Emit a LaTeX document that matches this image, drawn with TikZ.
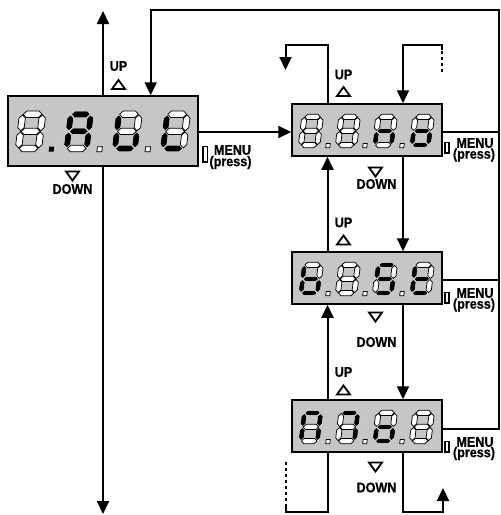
\documentclass[tikz,border=0pt]{standalone}
\usepackage{fontspec}
\setmainfont{Liberation Sans}
\newfontfamily\labfont[FakeStretch=0.9,BoldFeatures={FakeBold=0.6}]{Liberation Sans}
\usetikzlibrary{arrows.meta,calc}
\definecolor{dispgray}{RGB}{198,198,198}
\def\sg{0.6}\def\sh{3.2}\def\dscale{1}
\newcommand\segput[2]{\ifnum#1=1 \filldraw[seglit] #2;\else\filldraw[segoff] #2;\fi}
\newcommand\segH[4]{\segput{#1}{(#2+\sg,#4) -- (#2+\sg+\sh,#4+\sh) -- (#3-\sg-\sh,#4+\sh) -- (#3-\sg,#4) -- (#3-\sg-\sh,#4-\sh) -- (#2+\sg+\sh,#4-\sh) -- cycle}}
\newcommand\segV[4]{\segput{#1}{(#2,#3+\sg) -- (#2+\sh,#3+\sg+\sh) -- (#2+\sh,#4-\sg-\sh) -- (#2,#4-\sg) -- (#2-\sh,#4-\sg-\sh) -- (#2-\sh,#3+\sg+\sh) -- cycle}}
\newcommand\sdig[9]{%
 \begin{scope}[shift={#1},x=1pt,y=1pt,xslant=0.12,scale=\dscale]
 \segH{#2}{0}{20}{34.2}
 \segV{#3}{20}{17.1}{34.2}
 \segV{#4}{20}{0}{17.1}
 \segH{#5}{0}{20}{0}
 \segV{#6}{0}{0}{17.1}
 \segV{#7}{0}{17.1}{34.2}
 \segH{#8}{0}{20}{17.1}
 \ifnum#9=1 \fill[black] (30.5,-3.2) rectangle (35.5,1.8);\fi
 \ifnum#9=0 \filldraw[segoff] (30.5,-3.2) rectangle (35.5,1.8);\fi
 \end{scope}}
\begin{document}
\begin{tikzpicture}[x=1pt,y=-1pt,
  seglit/.style={fill=black,draw=white,line width=0.35pt},
  segoff/.style={fill=white,draw=black,line width=0.75pt},
  disp/.style={draw=black,line width=1.5pt,fill=dispgray,inner sep=0pt,rectangle},
  ln/.style={line width=2pt},
  arr/.style={line width=2pt,-{Triangle[width=12pt,length=13pt]}},
  dsh/.style={line width=2pt,dash pattern=on 3.5pt off 2.5pt},
  lbl/.style={font=\labfont\fontsize{14}{14}\selectfont\bfseries,inner sep=0pt},
  tri/.style={line width=1.8pt,line join=miter},
  mrect/.style={line width=1.1pt,fill=white,draw=black},
  uptri/.pic={\draw[tri] (-6.5,4.5) -- (6.5,4.5) -- (0,-4.5) -- cycle;},
  dntri/.pic={\draw[tri] (-6.5,-4.5) -- (6.5,-4.5) -- (0,4.5) -- cycle;}]
\useasboundingbox (0,0) rectangle (501,515);

% coordinates
\coordinate (L) at (327.5,0);
\coordinate (R) at (403,0);
\coordinate (hy) at (0,132);
\coordinate (ltop) at (103,11);
\coordinate (lbot) at (103,514);
\coordinate (tr) at (498.5,10);
\coordinate (ul) at (285.5,70);
\coordinate (urd) at (442,50);
\coordinate (urdend) at (442,72);
\coordinate (bld) at (285.5,507);
\coordinate (bldend) at (285.5,462);
\coordinate (brar) at (443,488);

% main vertical line of the left display
\draw[arr] (103,131) -- (ltop);
\draw[arr] (103,131) -- (lbot);

% boxes
\node[disp,minimum width=190pt,minimum height=70pt] (lb) at (103,131) {};
\node[disp,minimum width=150pt,minimum height=52pt] (b1) at (367,130) {};
\node[disp,minimum width=150pt,minimum height=52pt] (b2) at (367,278) {};
\node[disp,minimum width=150pt,minimum height=52pt] (b3) at (367,426) {};

\draw[arr] (lb.east |- hy) -- (b1.west |- hy);
\draw[arr] ($(b3.east)+(0,2.5)$) -| (tr) -| ($(lb.north)+(47.7,0)$);
\draw[ln] ($(b1.east)+(0,2)$) -- ++(56.5,0);
\draw[ln] ($(b2.east)+(0,2)$) -- ++(56.5,0);

\draw[arr] (b1.north -| L) |- (285.5,45) -- (ul);
\draw[dsh] (urdend) -- (urd);
\draw[arr] (urd) |- (403,45) -- (b1.north -| R);

\draw[arr] (b2.north -| L) -- (b1.south -| L);
\draw[arr] (b1.south -| R) -- (b2.north -| R);
\draw[arr] (b3.north -| L) -- (b2.south -| L);
\draw[arr] (b2.south -| R) -- (b3.north -| R);

\draw[ln] (b3.south -| L) |- (285.5,512) -- (bld);
\draw[dsh] (bld) -- (bldend);
\draw[arr] (b3.south -| R) |- (443,512) -- (brar);

% digits: left display
\def\dscale{1}
\sdig{(18.5,148.5)}{0}{0}{0}{0}{0}{0}{0}{1}
\sdig{(66.7,148.5)}{1}{1}{1}{0}{1}{1}{1}{0}
\sdig{(114.9,148.5)}{0}{0}{1}{1}{1}{1}{0}{0}
\sdig{(163.1,148.5)}{0}{0}{0}{1}{1}{1}{0}{2}
% display 1
\def\dscale{0.82}
\sdig{(301,145)}{0}{0}{0}{0}{0}{0}{0}{0}
\sdig{(338,145)}{0}{0}{0}{0}{0}{0}{0}{0}
\sdig{(375,145)}{0}{0}{1}{0}{1}{0}{1}{0}
\sdig{(412,145)}{0}{0}{1}{1}{1}{0}{1}{2}
% display 2
\sdig{(301,293)}{0}{0}{1}{1}{1}{1}{1}{0}
\sdig{(338,293)}{0}{0}{0}{0}{0}{0}{0}{0}
\sdig{(375,293)}{1}{0}{1}{1}{0}{1}{1}{0}
\sdig{(412,293)}{0}{0}{0}{1}{1}{1}{1}{2}
% display 3
\sdig{(301,441)}{1}{1}{1}{0}{1}{1}{0}{0}
\sdig{(338,441)}{1}{1}{1}{0}{0}{0}{0}{0}
\sdig{(375,441)}{0}{0}{1}{1}{1}{0}{1}{0}
\sdig{(412,441)}{0}{0}{0}{0}{0}{0}{0}{2}

% labels left
\node[lbl] (lup) at (118.5,66) {UP};
\pic at (118.5,84.5) {uptri};
\pic at (72.5,176) {dntri};
\node[lbl] (ldn) at (72.5,189) {DOWN};
\draw[mrect] (203,146.5) rectangle (207.5,162);
\node[lbl] (lm) at (232.5,150) {MENU};
\node[lbl] (lp) at (230.5,162.5) {(press)};

% labels b1
\node[lbl] (u1) at (343.5,74.5) {UP};
\pic at (343.5,91.5) {uptri};
\pic at (375.5,172) {dntri};
\node[lbl] (d1) at (376.5,184) {DOWN};
\draw[mrect] (445,142.5) rectangle (449,153);
\node[lbl] (m1) at (475,143) {MENU};
\node[lbl] (p1) at (474,155) {(press)};

% labels b2
\node[lbl] (u2) at (343.5,222.5) {UP};
\pic at (343.5,240) {uptri};
\pic at (375.5,317) {dntri};
\node[lbl] (d2) at (376.5,342) {DOWN};
\draw[mrect] (445,292.5) rectangle (449,303);
\node[lbl] (m2) at (475,293) {MENU};
\node[lbl] (p2) at (474,305) {(press)};

% labels b3
\node[lbl] (u3) at (343.5,372) {UP};
\pic at (343.5,390) {uptri};
\pic at (375.5,467) {dntri};
\node[lbl] (d3) at (376.5,487.5) {DOWN};
\draw[mrect] (445,441.5) rectangle (449,452);
\node[lbl] (m3) at (475,442) {MENU};
\node[lbl] (p3) at (474,453.5) {(press)};
\end{tikzpicture}
\end{document}
